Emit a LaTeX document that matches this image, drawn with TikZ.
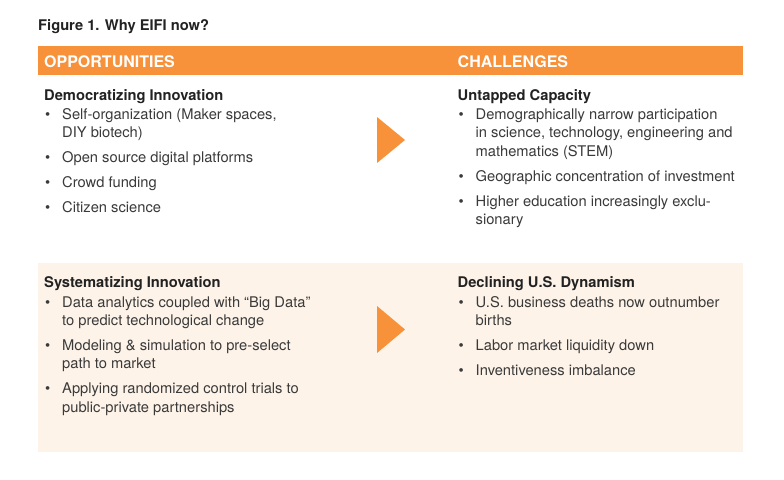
\documentclass[tikz,border=0pt]{standalone}
\usepackage{fontspec}
\setmainfont{TeX Gyre Heros}
\definecolor{orng}{HTML}{F7913A}
\definecolor{beige}{HTML}{FDF3E9}
\definecolor{bodytxt}{HTML}{3A3A3A}
\definecolor{headtxt}{HTML}{222222}
\newcommand{\mylines}[1]{\begin{tabular}[t]{@{}l@{}}#1\end{tabular}}
\begin{document}
\begin{tikzpicture}[x=1pt,y=-1pt,
  body/.style={anchor=base west,inner sep=0pt,text=bodytxt,font=\fontsize{14.7}{18.8}\selectfont},
  bul/.style={anchor=base west,inner sep=0pt,text=bodytxt,font=\fontsize{14.7}{18.8}\selectfont},
  head/.style={anchor=base west,inner sep=0pt,text=headtxt,font=\fontsize{14.7}{16}\selectfont\bfseries},
  bar/.style={anchor=base west,inner sep=0pt,text=white,font=\fontsize{16}{18}\selectfont\bfseries},
  tri/.style={fill=orng,draw=none}]
\useasboundingbox (0,0) rectangle (784,479);
\fill[white] (0,0) rectangle (784,479);
% title
\node[head] (title) at (38,30.5) {Figure 1. Why EIFI now?};
% orange bar
\fill[orng] (38,46) rectangle (743,75);
\node[bar] (opp) at (44,67) {OPPORTUNITIES};
\node[bar] (cha) at (457.5,67) {CHALLENGES};
% beige panel
\fill[beige] (38,263) rectangle (743,452);
% arrows
\fill[tri] (377,117) -- (405,140) -- (377,163) -- cycle;
\fill[tri] (377,306) -- (405,329.5) -- (377,353) -- cycle;
% upper left
\node[head] (h1) at (44,100) {Democratizing Innovation};
\node[bul] (b11) at (45,119) {•};
\node[body] (t11) at (62,119) {\mylines{Self-organization (Maker spaces,\\DIY biotech)}};
\node[bul] (b12) at (45,162) {•};
\node[body] (t12) at (62,162) {Open source digital platforms};
\node[bul] (b13) at (45,187) {•};
\node[body] (t13) at (62,187) {Crowd funding};
\node[bul] (b14) at (45,212) {•};
\node[body] (t14) at (62,212) {Citizen science};
% upper right
\node[head] (h2) at (457.5,100) {Untapped Capacity};
\node[bul] (b21) at (458.5,119) {•};
\node[body] (t21) at (475.5,119) {\mylines{Demographically narrow participation\\in science, technology, engineering and\\mathematics (STEM)}};
\node[bul] (b22) at (458.5,181) {•};
\node[body] (t22) at (475.5,181) {Geographic concentration of investment};
\node[bul] (b23) at (458.5,206) {•};
\node[body] (t23) at (475.5,206) {\mylines{Higher education increasingly exclu-\\sionary}};
% lower left
\node[head] (h3) at (44,287.5) {Systematizing Innovation};
\node[bul] (b31) at (45,307) {•};
\node[body] (t31) at (62,307) {\mylines{Data analytics coupled with “Big Data”\\to predict technological change}};
\node[bul] (b32) at (45,350) {•};
\node[body] (t32) at (62,350) {\mylines{Modeling \& simulation to pre-select\\path to market}};
\node[bul] (b33) at (45,393.5) {•};
\node[body] (t33) at (62,393.5) {\mylines{Applying randomized control trials to\\public-private partnerships}};
% lower right
\node[head] (h4) at (457.5,287.5) {Declining U.S. Dynamism};
\node[bul] (b41) at (458.5,307) {•};
\node[body] (t41) at (475.5,307) {\mylines{U.S. business deaths now outnumber\\births}};
\node[bul] (b42) at (458.5,350) {•};
\node[body] (t42) at (475.5,350) {Labor market liquidity down};
\node[bul] (b43) at (458.5,375) {•};
\node[body] (t43) at (475.5,375) {Inventiveness imbalance};
\end{tikzpicture}
\end{document}
